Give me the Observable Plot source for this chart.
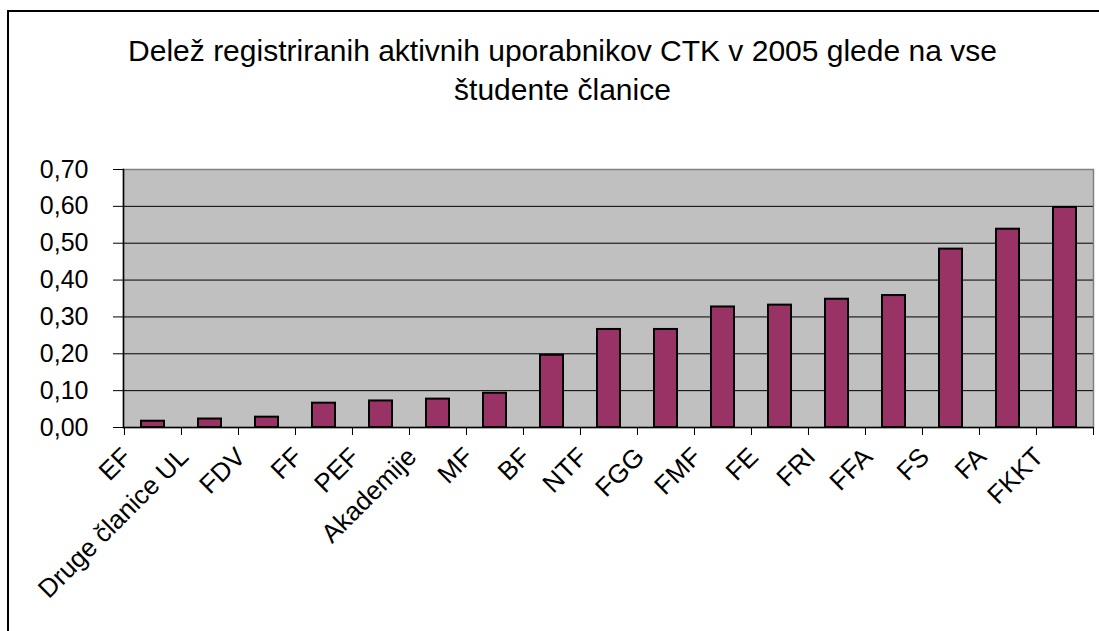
<!DOCTYPE html>
<html>
<head>
<meta charset="utf-8">
<script src="https://cdn.jsdelivr.net/npm/d3@7"></script>
<script src="https://cdn.jsdelivr.net/npm/@observablehq/plot@0.6"></script>
<style>
  body { margin: 0; background: #fff; }
  #wrap { position: relative; width: 1099px; height: 631px; overflow: hidden; }
  #border { position: absolute; left: 7px; top: 10px; width: 1200px; height: 700px;
            border-left: 2px solid #000; border-top: 2px solid #000; pointer-events: none; }
  #wrap svg { position: absolute; left: 0; top: 0; }
</style>
</head>
<body>
<div id="wrap"><div id="border"></div></div>
<script>
const categories = ["EF", "Druge članice UL", "FDV", "FF", "PEF", "Akademije", "MF", "BF", "NTF",
  "FGG", "FMF", "FE", "FRI", "FFA", "FS", "FA", "FKKT"];
const values = [0.017, 0.023, 0.028, 0.066, 0.072, 0.077, 0.093, 0.196, 0.266,
  0.266, 0.327, 0.332, 0.348, 0.358, 0.484, 0.538, 0.597];
const yTicks = [0, 0.1, 0.2, 0.3, 0.4, 0.5, 0.6, 0.7];
const titleText = "Delež registriranih aktivnih uporabnikov CTK v 2005 glede na vse\nštudente članice";

const data = categories.map((c, i) => ({category: c, value: values[i]}));

const W = 1099, H = 631, mL = 123, mR = 6, mT = 169, mB = 204;
const step = (W - mL - mR) / categories.length;

const chart = Plot.plot({
  width: W, height: H,
  marginLeft: mL, marginRight: mR, marginTop: mT, marginBottom: mB,
  style: {fontFamily: "'Liberation Sans', Arial, sans-serif", background: "transparent", color: "#000", overflow: "visible"},
  x: {domain: categories, paddingInner: 0.6, paddingOuter: 0.3},
  y: {domain: [0, 0.7]},
  marks: [
    Plot.frame({fill: "#C0C0C0", stroke: "#808080", strokeWidth: 1.5}),
    Plot.gridY(yTicks.slice(1, -1), {stroke: "#000", strokeOpacity: 1, strokeWidth: 1}),
    Plot.barY(data, {x: "category", y: "value", fill: "#993366", stroke: "#000", strokeWidth: 2}),
    Plot.frame({anchor: "left", stroke: "#000", strokeWidth: 1.5}),
    Plot.ruleY([0], {stroke: "#000", strokeWidth: 1.5}),
    Plot.axisY({ticks: yTicks, tickSize: 10, tickPadding: 25, fontSize: 25, label: null,
      tickFormat: d => d.toFixed(2).replace(".", ",")}),
    Plot.axisX({ticks: categories, tickSize: 8, tickFormat: () => "", label: null, dx: -step / 2}),
    Plot.axisX({ticks: [categories[categories.length - 1]], tickSize: 8, tickFormat: () => "", label: null, dx: step / 2}),
    Plot.axisX({ticks: categories, tickSize: 0, tickPadding: 25, tickRotate: -45, fontSize: 26, label: null, dx: -26}),
    Plot.text([titleText], {text: d => d, frameAnchor: "top", dx: -46, dy: -101.5,
      lineAnchor: "middle", fontSize: 30, lineHeight: 1.3, fill: "#000"})
  ]
});
document.getElementById("wrap").prepend(chart);
</script>
</body>
</html>
